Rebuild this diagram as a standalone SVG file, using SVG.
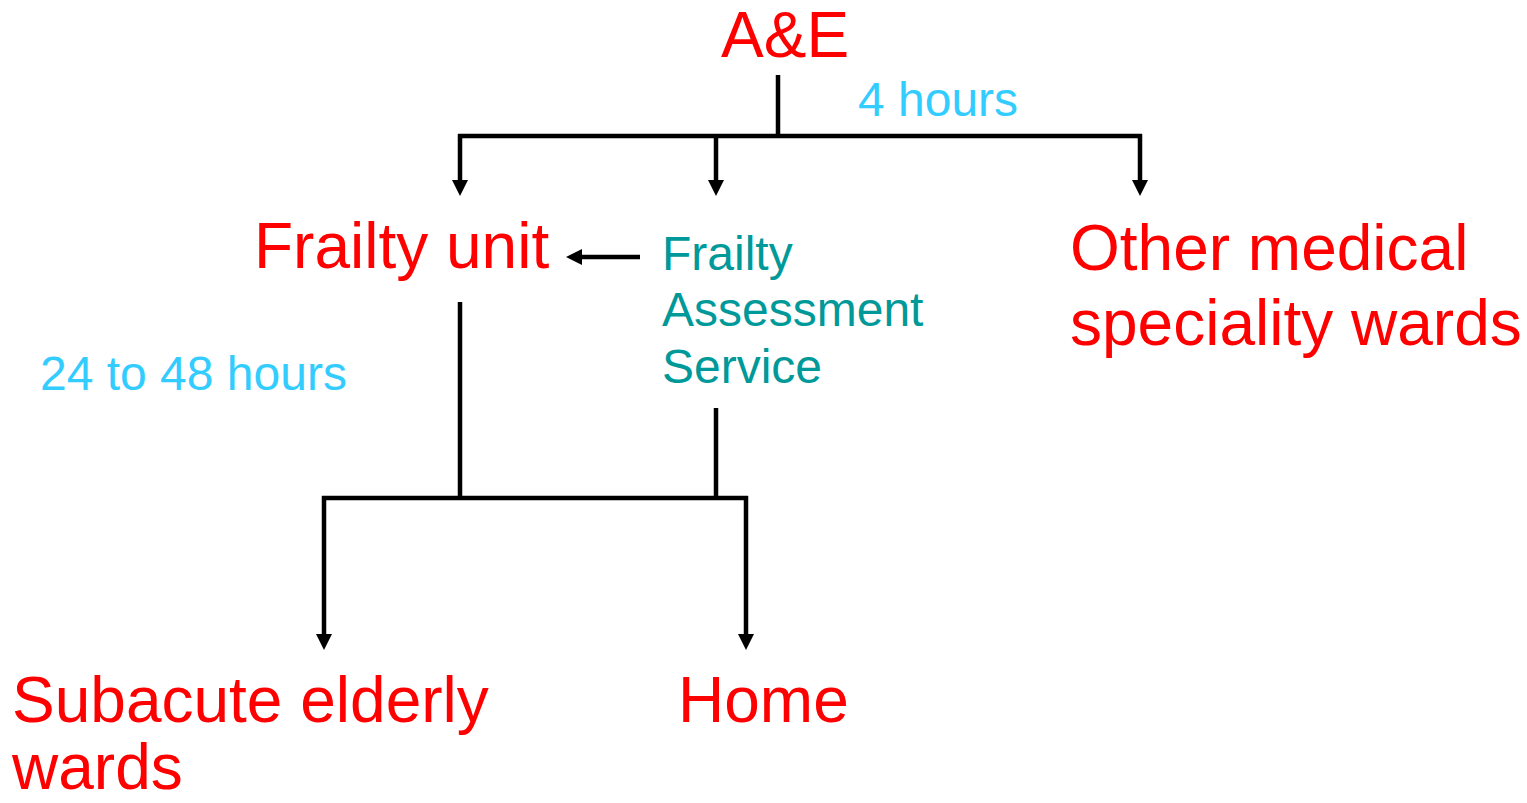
<svg xmlns="http://www.w3.org/2000/svg" width="1527" height="803" viewBox="0 0 1527 803">
<style>
.red{fill:#FF0000;font-family:"Liberation Sans",Arial,sans-serif;font-size:64px}
.teal{fill:#009999;font-family:"Liberation Sans",Arial,sans-serif;font-size:48px}
.blue{fill:#33CCFF;font-family:"Liberation Sans",Arial,sans-serif;font-size:48px}
.ln{fill:none;stroke:#000;stroke-width:4.5}
</style>
<defs>
<path id="down" d="M-8,-16 L8,-16 L0,0 Z" fill="#000"/>
</defs>
<rect width="1527" height="803" fill="#fff"/>
<g id="connectors">
<path class="ln" d="M778,75 V136"/>
<path class="ln" d="M458,136 H1142"/>
<path class="ln" d="M460,134 V182"/>
<use href="#down" x="460" y="196"/>
<path class="ln" d="M716,134 V182"/>
<use href="#down" x="716" y="196"/>
<path class="ln" d="M1140,134 V182"/>
<use href="#down" x="1140" y="196"/>
<path class="ln" d="M640,257 H580"/>
<use href="#down" transform="translate(566,257) rotate(90)"/>
<path class="ln" d="M460,302 V498"/>
<path class="ln" d="M716,408 V498"/>
<path class="ln" d="M322,498 H748"/>
<path class="ln" d="M324,496 V636"/>
<use href="#down" x="324" y="650"/>
<path class="ln" d="M746,496 V636"/>
<use href="#down" x="746" y="650"/>
</g>
<g id="label-4h"><text class="blue" x="858" y="116">4 hours</text></g>
<g id="label-24h"><text class="blue" x="40" y="390">24 to 48 hours</text></g>
<g id="ae"><text class="red" x="721" y="57">A&amp;E</text></g>
<g id="frailty-unit"><text class="red" x="254" y="268">Frailty unit</text></g>
<g id="fas"><text class="teal" x="662" y="270">Frailty</text><text class="teal" x="662" y="326">Assessment</text><text class="teal" x="662" y="383">Service</text></g>
<g id="other"><text class="red" x="1070" y="270">Other medical</text><text class="red" x="1070" y="345">speciality wards</text></g>
<g id="subacute"><text class="red" x="12" y="722">Subacute elderly</text><text class="red" x="12" y="789">wards</text></g>
<g id="home"><text class="red" x="678" y="722">Home</text></g>
</svg>
